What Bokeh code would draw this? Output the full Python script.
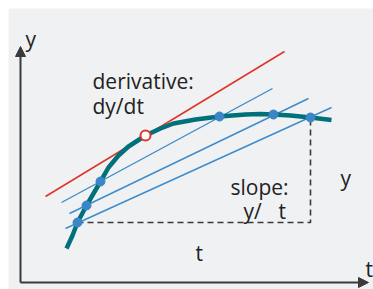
from bokeh.plotting import figure
from bokeh.models import Range1d, Arrow, NormalHead, Label
from bokeh.embed import file_html
from bokeh.resources import INLINE

# ---- data (t, y) ----
curve_t = [46, 52, 57, 66, 80, 88, 98, 108, 125, 140, 153, 175, 199, 225, 240, 253, 270, 290, 311]
curve_y = [34, 47, 60, 77, 101, 115, 127, 136, 147, 154, 159, 163, 166, 168, 168.5, 168, 167, 165, 162.5]

dot_t = [57, 66, 80, 199, 253, 290]
dot_y = [60, 77, 101, 166, 168, 165]

tangent_point_t = [125]
tangent_point_y = [147]

tangent_t = [25, 264]
tangent_y = [86, 231]

secant_t = [[41, 252], [49, 288], [45, 311]]
secant_y = [[80, 194], [69, 184], [54, 175]]

# slope triangle for the lowest secant
tri_t = [dot_t[0], dot_t[5], dot_t[5]]
tri_y = [dot_y[0], dot_y[0], dot_y[5]]

axis_t_end = 348
axis_y_end = 236

BG = "#f0f1f3"
TEAL = "#00707a"
RED = "#e0352b"
BLUE = "#3d8bcb"
DOT = "#3a86c7"
INK = "#3a3a3a"
FONT = "Open Sans"

p = figure(width=373, height=289, output_backend="svg", toolbar_location=None,
           x_range=Range1d(-12, 353), y_range=Range1d(-7, 274),
           x_axis_type=None, y_axis_type=None,
           min_border=0, min_border_left=8, min_border_right=0,
           min_border_top=8, min_border_bottom=0)
p.background_fill_color = BG
p.border_fill_color = "white"
p.outline_line_color = None
p.grid.visible = False

# axes with arrows
p.add_layout(Arrow(end=NormalHead(size=10, fill_color=INK, line_color=INK),
                   x_start=0, y_start=0, x_end=0, y_end=axis_y_end,
                   line_color=INK, line_width=2))
p.add_layout(Arrow(end=NormalHead(size=10, fill_color=INK, line_color=INK),
                   x_start=0, y_start=0, x_end=axis_t_end, y_end=0,
                   line_color=INK, line_width=2))

# dashed slope triangle
p.line(tri_t, tri_y, line_color=INK, line_width=1.6, line_dash="6 4")

# secants
p.multi_line(secant_t, secant_y, line_color=BLUE, line_width=1.4)

# tangent
p.line(tangent_t, tangent_y, line_color=RED, line_width=1.6)

# curve
p.line(curve_t, curve_y, line_color=TEAL, line_width=4.5, line_join="round", line_cap="butt")

# dots
p.scatter(dot_t, dot_y, size=9, fill_color=DOT, line_color=DOT)
p.scatter(tangent_point_t, tangent_point_y, size=10, fill_color="white",
          line_color=RED, line_width=2)

def lab(x, y, txt):
    p.add_layout(Label(x=x, y=y, text=txt, text_font=FONT, text_font_size="21px",
                       text_color="#222222", text_baseline="alphabetic", text_align="left"))

lab(5, 244, "y")
lab(345, 14, "t")
lab(72, 202, "derivative:")
lab(72, 177, "dy/dt")
lab(210, 96, "slope:")
lab(223, 72, "y/")
lab(258, 72, "t")
lab(320, 105, "y")
lab(175, 30, "t")

open("out.html", "w").write(file_html(p, INLINE))
